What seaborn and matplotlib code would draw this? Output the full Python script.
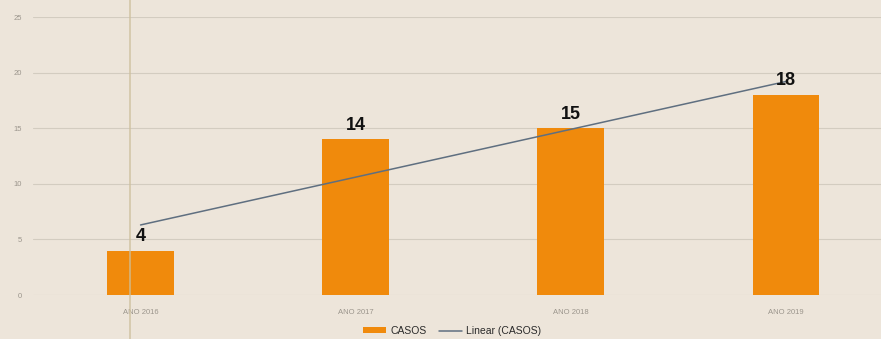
import matplotlib
matplotlib.use("Agg")
import matplotlib.pyplot as plt
from matplotlib.patches import Patch
from matplotlib.lines import Line2D
import seaborn as sns
import pandas as pd
import numpy as np

# Chart data
anos = ["ANO 2016", "ANO 2017", "ANO 2018", "ANO 2019"]
casos = [4, 14, 15, 18]
y_ticks = [0, 5, 10, 15, 20, 25]

paper = "#ede5da"
orange = "#f08a0c"
trend_color = "#5f6f80"

sns.set_theme(style="white")
plt.rcParams["font.family"] = ["Liberation Sans", "DejaVu Sans"]

df = pd.DataFrame({"ano": anos, "casos": casos, "pos": np.arange(len(anos))})

fig = plt.figure(figsize=(8.81, 3.39), dpi=100, facecolor=paper)
W, H = 881, 339
ax = fig.add_axes([33 / W, 44 / H, (881 - 33) / W, (295 - 17) / H])
ax.set_facecolor(paper)

sns.barplot(data=df, x="ano", y="casos", color=orange, saturation=1,
            width=0.31, linewidth=0, edgecolor="none", ax=ax, zorder=2)

# Linear trend line for CASOS
sns.regplot(data=df, x="pos", y="casos", scatter=False, ci=None, ax=ax,
            line_kws=dict(color=trend_color, lw=1.1, zorder=3))

ax.bar_label(ax.containers[0], labels=[str(v) for v in casos], padding=4,
             fontsize=13, fontweight="bold", color="#111111", zorder=4)

ax.set_ylim(0, 25)
ax.set_xlim(-0.5, (881 - 140) / 215.3)
ax.set_yticks(y_ticks)
ax.set_yticklabels([str(t) for t in y_ticks])
ax.yaxis.grid(True, color="#d3ccc0", lw=0.8, zorder=0)
ax.set_axisbelow(True)
ax.tick_params(axis="both", length=0, labelsize=5.5, labelcolor="#9b958c")
ax.tick_params(axis="x", pad=10)
ax.tick_params(axis="y", pad=8)
ax.set_xlabel("")
ax.set_ylabel("")
for s in ax.spines.values():
    s.set_visible(False)

handles = [Patch(facecolor=orange, edgecolor="none", label="CASOS"),
           Line2D([0], [0], color=trend_color, lw=1.1, label="Linear (CASOS)")]
fig.legend(handles=handles, loc="center", bbox_to_anchor=(452 / W, 1 - 331 / H),
           ncol=2, frameon=False, fontsize=7.5, labelcolor="#2a2a2a",
           handlelength=2.2, handleheight=0.5, columnspacing=1.2, handletextpad=0.4)

# Fold crease across the page
fig.add_artist(Line2D([130 / W, 130 / W], [0, 1], transform=fig.transFigure,
                      color="#cdbf9c", lw=1.2, alpha=0.8))

fig.savefig("out.png", dpi=100, facecolor=paper)
